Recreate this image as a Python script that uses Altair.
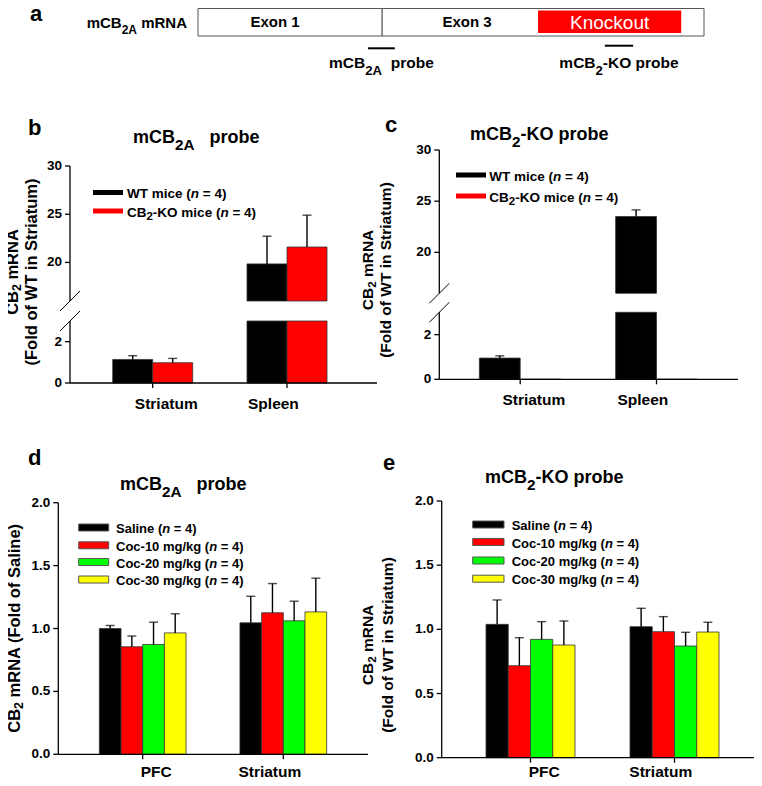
import re
import altair as alt
import pandas as pd

FONT = "Liberation Sans"
MARGIN = 8

# ------------------------------------------------------------------ data
# (b) mCB2A probe
b_tissue = ["Striatum", "Spleen"]
bc_genotype = ["WT mice", "CB2-KO mice"]
bc_n = [4, 4]
b_wt_mean = [1.14, 19.85]
b_wt_sem = [0.18, 2.87]
b_ko_mean = [0.98, 21.6]
b_ko_sem = [0.21, 3.30]
# (c) mCB2-KO probe
c_wt_mean = [0.95, 23.5]
c_wt_sem = [0.10, 0.65]
c_ko_mean = [0.0, 0.0]
c_ko_sem = [0.0, 0.0]
# (d) / (e) cocaine groups
de_region = ["PFC", "Striatum"]
de_treatment = ["Saline", "Coc-10 mg/kg", "Coc-20 mg/kg", "Coc-30 mg/kg"]
de_n = [4, 4, 4, 4]
d_saline_mean = [1.00, 1.045]
d_saline_sem = [0.024, 0.211]
d_c10_mean = [0.855, 1.125]
d_c10_sem = [0.085, 0.232]
d_c20_mean = [0.873, 1.061]
d_c20_sem = [0.177, 0.156]
d_c30_mean = [0.965, 1.132]
d_c30_sem = [0.152, 0.268]
e_saline_mean = [1.039, 1.021]
e_saline_sem = [0.190, 0.143]
e_c10_mean = [0.717, 0.982]
e_c10_sem = [0.218, 0.117]
e_c20_mean = [0.922, 0.870]
e_c20_sem = [0.138, 0.107]
e_c30_mean = [0.878, 0.979]
e_c30_sem = [0.187, 0.076]

# axes
bc_upper_dom = [16, 30]
bc_lower_dom = [0, 3]
bc_upper_ticks = [20, 25, 30]
bc_lower_ticks = [0, 2]
de_dom = [0, 2]
de_ticks = [0.0, 0.5, 1.0, 1.5, 2.0]

# (a) schematic of the mRNA (arbitrary units along the transcript)
a_exon = ["Exon 1", "Exon 3"]
a_exon_start = [0.0, 36.4]
a_exon_end = [36.4, 100.0]
a_knockout = [67.2, 95.5]
a_probe = ["mCB2A  probe", "mCB2-KO probe"]
a_probe_start = [33.6, 80.4]
a_probe_end = [38.9, 86.0]

genotype_colors = ["#000000", "#FF0000"]
treatment_colors = ["#000000", "#FF0000", "#00FF00", "#FFFF00"]

# ------------------------------------------------------------------ helpers
ONE = pd.DataFrame({"k": [0]})


def P(v):
    return v - MARGIN


AB = {" ": 278, "(": 333, ")": 333, "-": 333, ".": 278, "/": 278, "=": 584,
      "A": 722, "B": 722, "C": 722, "D": 722, "E": 667, "F": 611, "G": 778, "H": 722,
      "I": 278, "K": 722, "L": 611, "M": 833, "N": 722, "O": 778, "P": 667, "R": 722,
      "S": 667, "T": 611, "W": 944,
      "a": 556, "b": 611, "c": 556, "d": 611, "e": 556, "f": 333, "g": 611, "h": 611,
      "i": 278, "k": 556, "l": 278, "m": 889, "n": 611, "o": 611, "p": 611, "r": 389,
      "s": 556, "t": 333, "u": 611, "x": 556, "y": 556}
for _d in "0123456789":
    AB[_d] = 556


def tw(s, size):
    return sum(AB.get(ch, 556) for ch in s) * size / 1000.0


def txt(s, x, y, size, weight="bold", align="left", baseline="alphabetic",
        style="normal", angle=0, color="black"):
    return alt.Chart(ONE).mark_text(
        text=s, font=FONT, fontSize=size, fontWeight=weight, fontStyle=style,
        align=align, baseline=baseline, angle=angle, color=color,
    ).encode(x=alt.value(P(x)), y=alt.value(P(y)))


def markup(s):
    parts, pos = [], 0
    for m in re.finditer(r"CB(2A?)", s):
        parts.append((s[pos:m.start()] + "CB", "n"))
        parts.append((m.group(1), "s"))
        pos = m.end()
    parts.append((s[pos:], "n"))
    return [p for p in parts if p[0]]


def rich(segs, x, y, size, align="left", angle=0, sub_scale=0.8, sub_drop=0.3):
    sizes = [size * sub_scale if k == "s" else size for _, k in segs]
    widths = [tw(t, sz) for (t, _), sz in zip(segs, sizes)]
    total = sum(widths)
    off = {"left": 0.0, "center": -total / 2.0, "right": -total}[align]
    out = []
    for (t, k), sz, w in zip(segs, sizes, widths):
        lead = tw(t[: len(t) - len(t.lstrip(" "))], sz)
        drop = size * sub_drop if k == "s" else 0.0
        o = off + lead
        if angle == 0:
            px, py = x + o, y + drop
        else:
            px, py = x + drop, y - o
        out.append(txt(t.strip(), px, py, sz, style="italic" if k == "i" else "normal", angle=angle))
        off += w
    return out


def tidy(cats, groups, means, sems):
    rows = []
    for g, ms, ss in zip(groups, means, sems):
        for c, m, s in zip(cats, ms, ss):
            rows.append({"cat": c, "grp": g, "mean": m, "sem": s})
    return pd.DataFrame(rows)


def yscale(dom, px):
    return alt.Scale(domain=dom, range=[P(px[0]), P(px[1])], nice=False, zero=False)


def xband(cats, centers, w):
    step = centers[1] - centers[0]
    return alt.Scale(domain=cats, range=[P(centers[0] - w / 2), P(centers[1] + w / 2)],
                     paddingInner=1 - w / step, paddingOuter=0)


def bars(df, xs, xo, cs, ys, yfield, base, filt=None, calc=None):
    ch = alt.Chart(df)
    if filt:
        ch = ch.transform_filter(filt)
    if calc:
        ch = ch.transform_calculate(**calc)
    return ch.mark_bar(stroke="#333333", strokeWidth=0.8).encode(
        x=alt.X("cat:N", scale=xs, axis=None),
        xOffset=alt.XOffset("grp:N", scale=xo),
        y=alt.Y(yfield + ":Q", scale=ys, axis=None),
        y2=alt.Y2Datum(base),
        color=alt.Color("grp:N", scale=cs, legend=None),
    )


def errs(df, xs, xo, ys, filt):
    base = alt.Chart(df).transform_filter(filt).transform_calculate(up="datum.mean + datum.sem")
    stem = base.mark_rule(color="black", strokeWidth=1.4).encode(
        x=alt.X("cat:N", scale=xs, axis=None),
        xOffset=alt.XOffset("grp:N", scale=xo),
        y=alt.Y("mean:Q", scale=ys, axis=None),
        y2=alt.Y2("up:Q"),
    )
    cap = base.mark_tick(color="black", thickness=1.4, size=9, orient="horizontal").encode(
        x=alt.X("cat:N", scale=xs, axis=None),
        xOffset=alt.XOffset("grp:N", scale=xo),
        y=alt.Y("up:Q", scale=ys, axis=None),
    )
    return [stem, cap]


def yaxis(ys, dom, ticks, ax, fmt):
    tdf = pd.DataFrame({"v": ticks})
    return [
        alt.Chart(ONE).mark_rule(color="black", strokeWidth=1.3).encode(
            x=alt.value(P(ax)), y=alt.YDatum(dom[0], scale=ys, axis=None), y2=alt.Y2Datum(dom[1])),
        alt.Chart(tdf).mark_rule(color="black", strokeWidth=1.3).encode(
            x=alt.value(P(ax - 5)), x2=alt.value(P(ax)), y=alt.Y("v:Q", scale=ys, axis=None)),
        alt.Chart(tdf).mark_text(font=FONT, fontSize=13.5, fontWeight="bold", align="right",
                                 baseline="middle").encode(
            x=alt.value(P(ax - 8)), y=alt.Y("v:Q", scale=ys, axis=None),
            text=alt.Text("v:Q", format=fmt)),
    ]


def xaxis(cats, xs, ys, ax, xend, axis_y, label_y):
    cdf = pd.DataFrame({"cat": cats})
    return [
        alt.Chart(ONE).mark_rule(color="black", strokeWidth=1.3).encode(
            x=alt.value(P(ax)), x2=alt.value(P(xend)), y=alt.YDatum(0, scale=ys, axis=None)),
        alt.Chart(cdf).mark_rule(color="black", strokeWidth=1.3).encode(
            x=alt.X("cat:N", scale=xs, axis=None), y=alt.value(P(axis_y)), y2=alt.value(P(axis_y + 5))),
        alt.Chart(cdf).mark_text(font=FONT, fontSize=15.5, fontWeight="bold", baseline="middle").encode(
            x=alt.X("cat:N", scale=xs, axis=None), y=alt.value(P(label_y)), text="cat:N"),
    ]


def legend(names, ns, colors, x0, x1, h, centers, tx, size, stroke=None):
    out = []
    for name, n, col, yc in zip(names, ns, colors, centers):
        kw = dict(color=col)
        if stroke:
            kw.update(stroke=stroke, strokeWidth=1)
        out.append(alt.Chart(ONE).mark_rect(**kw).encode(
            x=alt.value(P(x0)), x2=alt.value(P(x1)),
            y=alt.value(P(yc - h / 2)), y2=alt.value(P(yc + h / 2))))
        segs = markup(name) + [(" (", "n"), ("n", "i"), (" = %d)" % n, "n")]
        out += rich(segs, tx, yc + 0.36 * size + 1, size, sub_scale=0.85, sub_drop=0.25)
    return out


L = []

# ------------------------------------------------------------------ panel a
a_x0, a_x1 = 198, 704
xa = alt.Scale(domain=[0, 100], range=[P(a_x0), P(a_x1)])


def a_px(u):
    return a_x0 + (a_x1 - a_x0) * u / 100.0


L.append(txt("a", 30, 21, 22))
L += rich(markup("mCB2A mRNA"), 187, 28.3, 15, align="right", sub_scale=0.8, sub_drop=0.35)
exon_df = pd.DataFrame({"exon": a_exon, "s": a_exon_start, "e": a_exon_end})
L.append(alt.Chart(exon_df).mark_rect(fill="white", stroke="#555555", strokeWidth=1).encode(
    x=alt.X("s:Q", scale=xa, axis=None), x2="e:Q", y=alt.value(P(8.5)), y2=alt.value(P(36))))
L.append(alt.Chart(ONE).mark_rect(color="#FF0000").encode(
    x=alt.XDatum(a_knockout[0], scale=xa, axis=None), x2=alt.X2Datum(a_knockout[1]),
    y=alt.value(P(10.5)), y2=alt.value(P(33))))
L.append(alt.Chart(ONE).mark_text(text="Knockout", font=FONT, fontSize=19, color="white",
                                  baseline="alphabetic").encode(
    x=alt.XDatum((a_knockout[0] + a_knockout[1]) / 2, scale=xa, axis=None), y=alt.value(P(28.5))))
L.append(txt(a_exon[0], 275, 27, 15, align="center"))
L.append(txt(a_exon[1], 467, 27, 15, align="center"))
for s, e, yy, name in zip(a_probe_start, a_probe_end, [48.3, 45.7], a_probe):
    L.append(alt.Chart(ONE).mark_rule(color="black", strokeWidth=2).encode(
        x=alt.XDatum(s, scale=xa, axis=None), x2=alt.X2Datum(e), y=alt.value(P(yy))))
    L += rich(markup(name), a_px((s + e) / 2), 68, 15.5, align="center", sub_scale=0.85, sub_drop=0.42)


# ------------------------------------------------------------------ panels b / c
def broken_panel(df, ax, centers, bw, xend, up_px, lo_px, label_y):
    xs = xband(b_tissue, centers, bw)
    xo = alt.Scale(domain=bc_genotype, paddingInner=0, paddingOuter=0)
    cs = alt.Scale(domain=bc_genotype, range=genotype_colors)
    ys_up = yscale(bc_upper_dom, up_px)
    ys_lo = yscale(bc_lower_dom, lo_px)
    out = []
    out.append(bars(df, xs, xo, cs, ys_up, "mean", bc_upper_dom[0],
                    filt="datum.mean > %g" % bc_upper_dom[0]))
    out.append(bars(df, xs, xo, cs, ys_lo, "top", 0,
                    calc={"top": "min(datum.mean, %g)" % bc_lower_dom[1]}))
    out += errs(df, xs, xo, ys_up, "datum.mean > %g && datum.sem > 0" % bc_upper_dom[0])
    out += errs(df, xs, xo, ys_lo, "datum.mean + datum.sem <= %g && datum.sem > 0" % bc_lower_dom[1])
    out += yaxis(ys_up, bc_upper_dom, bc_upper_ticks, ax, "d")
    out += yaxis(ys_lo, bc_lower_dom, bc_lower_ticks, ax, "d")
    out += xaxis(b_tissue, xs, ys_lo, ax, xend, lo_px[0], label_y)
    for yb in (up_px[0], lo_px[1]):
        out.append(alt.Chart(ONE).mark_rule(color="black", strokeWidth=1).encode(
            x=alt.value(P(ax - 10)), x2=alt.value(P(ax + 10)),
            y=alt.value(P(yb + 10)), y2=alt.value(P(yb - 10))))
    return out


b_df = tidy(b_tissue, bc_genotype, [b_wt_mean, b_ko_mean], [b_wt_sem, b_ko_sem])
c_df = tidy(b_tissue, bc_genotype, [c_wt_mean, c_ko_mean], [c_wt_sem, c_ko_sem])

L += broken_panel(b_df, 70, (152.7, 287.0), 80, 377, (301, 166), (383, 321), 404)
L += broken_panel(c_df, 439.3, (520.2, 656.5), 81.7, 738, (293.3, 150), (379.3, 312.3), 400)

L.append(txt("b", 28, 135, 22))
L += rich(markup("mCB2A   probe"), 133, 143.3, 18, sub_scale=0.85, sub_drop=0.37)
L += legend(bc_genotype, bc_n, genotype_colors, 93, 123, 5, [192.5, 211], 127, 13.5)
L += rich(markup("CB2 mRNA"), 18, 272, 16.5, align="center", angle=270, sub_scale=0.75, sub_drop=0.2)
L += rich([("(Fold of WT in Striatum)", "n")], 36.5, 272, 16.5, align="center", angle=270)

L.append(txt("c", 385, 132, 22))
L += rich(markup("mCB2-KO probe"), 470, 140, 18, sub_scale=0.85, sub_drop=0.37)
L += legend(bc_genotype, bc_n, genotype_colors, 456, 486, 5, [175, 196], 489.3, 13.5)
L += rich(markup("CB2 mRNA"), 373, 270, 15.5, align="center", angle=270, sub_scale=0.75, sub_drop=0.2)
L += rich([("(Fold of WT in Striatum)", "n")], 390.5, 270, 15.5, align="center", angle=270)


# ------------------------------------------------------------------ panels d / e
def simple_panel(df, ax, centers, bw, xend, px, label_y):
    xs = xband(de_region, centers, bw)
    xo = alt.Scale(domain=de_treatment, paddingInner=0, paddingOuter=0)
    cs = alt.Scale(domain=de_treatment, range=treatment_colors)
    ys = yscale(de_dom, px)
    out = [bars(df, xs, xo, cs, ys, "mean", 0)]
    out += errs(df, xs, xo, ys, "datum.sem > 0")
    out += yaxis(ys, de_dom, de_ticks, ax, ".1f")
    out += xaxis(de_region, xs, ys, ax, xend, px[0], label_y)
    return out


d_df = tidy(de_region, de_treatment,
            [d_saline_mean, d_c10_mean, d_c20_mean, d_c30_mean],
            [d_saline_sem, d_c10_sem, d_c20_sem, d_c30_sem])
e_df = tidy(de_region, de_treatment,
            [e_saline_mean, e_c10_mean, e_c20_mean, e_c30_mean],
            [e_saline_sem, e_c10_sem, e_c20_sem, e_c30_sem])

L += simple_panel(d_df, 58.3, (142.7, 283.3), 86.7, 368, (754.3, 502.7), 771.5)
L += simple_panel(e_df, 441.7, (530.5, 674.5), 89, 760, (757.7, 501), 771.5)

L.append(txt("d", 28, 465, 22))
L += rich(markup("mCB2A   probe"), 120, 490, 18, sub_scale=0.85, sub_drop=0.37)
L += legend(de_treatment, de_n, treatment_colors, 78.7, 108.7, 7, [527.5, 545.3, 562, 579.5], 116, 13,
            stroke="#555555")
L += rich(markup("CB2 mRNA (Fold of Saline)"), 20, 628, 16.5, align="center", angle=270,
          sub_scale=0.75, sub_drop=0.2)

L.append(txt("e", 383, 470, 22))
L += rich(markup("mCB2-KO probe"), 485, 483.3, 18, sub_scale=0.85, sub_drop=0.37)
L += legend(de_treatment, de_n, treatment_colors, 472.7, 504, 7, [524.5, 542, 560.5, 578.7], 511.7, 13,
            stroke="#555555")
L += rich(markup("CB2 mRNA"), 373, 645, 15.5, align="center", angle=270, sub_scale=0.75, sub_drop=0.2)
L += rich([("(Fold of WT in Striatum)", "n")], 392.5, 645, 15.5, align="center", angle=270)

chart = alt.layer(*L).properties(
    width=762 - 2 * MARGIN, height=786 - 2 * MARGIN, padding=0,
    autosize=alt.AutoSizeParams(type="none"),
).resolve_scale(
    x="independent", y="independent", xOffset="independent", color="independent",
).configure_view(stroke=None)

chart.save("out.html", embed_options={"renderer": "svg", "actions": False})
